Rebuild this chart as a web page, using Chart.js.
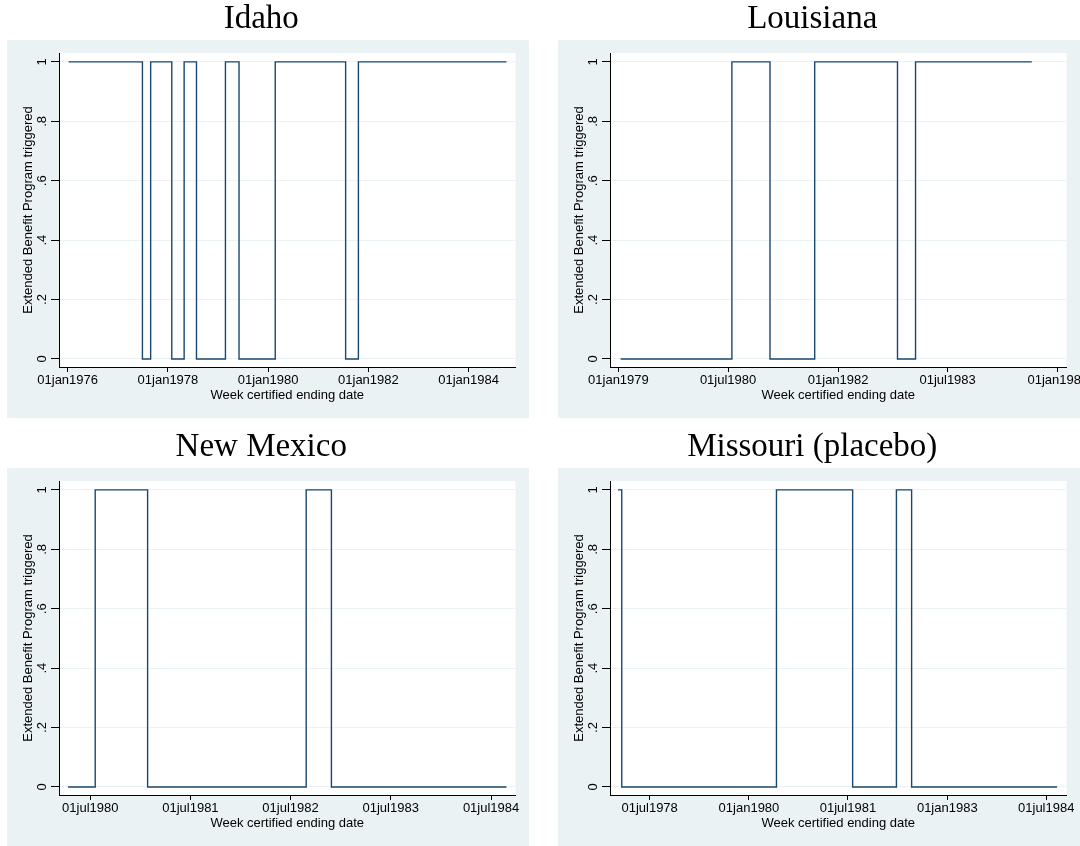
<!DOCTYPE html>
<html>
<head>
<meta charset="utf-8">
<script src="https://cdn.jsdelivr.net/npm/chart.js@4/dist/chart.umd.min.js"></script>
<style>
  html, body { margin: 0; padding: 0; background: #fff; }
  body { width: 1080px; height: 846px; position: relative; overflow: hidden; }
  canvas { position: absolute; }
</style>
</head>
<body>
<canvas id="idaho" width="522" height="418" style="left:7px;top:0px"></canvas>
<canvas id="louisiana" width="522" height="418" style="left:558px;top:0px"></canvas>
<canvas id="newmexico" width="522" height="418" style="left:7px;top:428px"></canvas>
<canvas id="missouri" width="522" height="418" style="left:558px;top:428px"></canvas>
<script>
// week at which the trigger switched, and the value it switched to
let idahoDates = ['1976-01-08', '1977-06-29', '1977-08-28', '1978-01-29', '1978-04-29', '1978-07-28',
  '1979-02-24', '1979-06-03', '1980-02-22', '1981-07-19', '1981-10-20', '1984-10-03'];
let idahoValues = [1, 0, 1, 0, 1, 0, 1, 0, 1, 0, 1, 1];
let idahoTicks = ['01jan1976', '01jan1978', '01jan1980', '01jan1982', '01jan1984'];

let louisianaDates = ['1979-01-12', '1980-07-20', '1981-01-26', '1981-09-06', '1982-10-24', '1983-01-22', '1984-08-24'];
let louisianaValues = [0, 1, 0, 1, 0, 1, 1];
let louisianaTicks = ['01jan1979', '01jul1980', '01jan1982', '01jul1983', '01jan1985'];

let newMexicoDates = ['1980-04-11', '1980-07-19', '1981-01-26', '1982-08-27', '1982-11-27', '1984-08-26'];
let newMexicoValues = [0, 1, 0, 1, 0, 0];
let newMexicoTicks = ['01jul1980', '01jul1981', '01jul1982', '01jul1983', '01jul1984'];

let missouriDates = ['1978-01-07', '1978-01-28', '1980-06-01', '1981-07-27', '1982-03-26', '1982-06-18', '1984-08-30'];
let missouriValues = [1, 0, 1, 0, 1, 0, 0];
let missouriTicks = ['01jul1978', '01jan1980', '01jul1981', '01jan1983', '01jul1984'];

let yTickValues = [0, 0.2, 0.4, 0.6, 0.8, 1];
let yTickLabels = ['0', '.2', '.4', '.6', '.8', '1'];

let months = ['jan', 'feb', 'mar', 'apr', 'may', 'jun', 'jul', 'aug', 'sep', 'oct', 'nov', 'dec'];
let DAY = 86400000;

function isoDay(s) {
  let p = s.split('-');
  return Date.UTC(+p[0], +p[1] - 1, +p[2]) / DAY;
}
function stataDay(s) {
  return Date.UTC(+s.slice(5), months.indexOf(s.slice(2, 5)), +s.slice(0, 2)) / DAY;
}

let panelBg = {
  id: 'panelBg',
  beforeDraw(chart) {
    let ctx = chart.ctx;
    let a = chart.chartArea;
    ctx.save();
    ctx.fillStyle = '#eaf2f3';
    ctx.fillRect(0, 40, chart.width, chart.height - 40);
    ctx.fillStyle = '#ffffff';
    ctx.fillRect(a.left, a.top, a.right - a.left, a.bottom - a.top);
    ctx.restore();
  }
};

function makePanel(id, title, dates, values, tickLabels, range) {
  let tickVals = tickLabels.map(stataDay);
  let points = dates.map((d, i) => ({x: isoDay(d), y: values[i]}));
  return new Chart(document.getElementById(id), {
    type: 'line',
    data: {
      datasets: [{
        data: points,
        stepped: true,
        borderColor: '#1a476f',
        borderWidth: 1.4,
        pointRadius: 0,
        fill: false
      }]
    },
    options: {
      responsive: false,
      animation: false,
      layout: {padding: {left: 0, right: 13.5, top: 0, bottom: 0}},
      plugins: {
        legend: {display: false},
        tooltip: {enabled: false},
        title: {
          display: true,
          text: title,
          color: '#000',
          font: {family: 'Liberation Serif', size: 33, weight: 'normal', lineHeight: 1.1},
          padding: {top: 1, bottom: 15.7}
        }
      },
      scales: {
        x: {
          type: 'linear',
          min: isoDay(range[0]),
          max: isoDay(range[1]),
          afterBuildTicks: (scale) => { scale.ticks = tickVals.map(v => ({value: v})); },
          afterFit: (scale) => { scale.height = 51; scale.paddingLeft = 0; scale.paddingRight = 0; },
          grid: {drawOnChartArea: false, drawTicks: true, tickLength: 5, tickColor: '#000'},
          border: {display: true, color: '#000', width: 1},
          ticks: {
            autoSkip: false,
            maxRotation: 0,
            padding: 1,
            color: '#000',
            font: {family: 'Liberation Sans', size: 13},
            callback: (v, i) => tickLabels[i]
          },
          title: {
            display: true,
            text: 'Week certified ending date',
            color: '#000',
            font: {family: 'Liberation Sans', size: 13},
            padding: {top: 0, bottom: 15.2}
          }
        },
        y: {
          min: -0.027,
          max: 1.03,
          afterBuildTicks: (scale) => { scale.ticks = yTickValues.map(v => ({value: v})); },
          afterFit: (scale) => { scale.width = 52; scale.paddingTop = 0; scale.paddingBottom = 0; },
          grid: {color: '#eaf2f3', lineWidth: 1, drawTicks: true, tickLength: 8, tickColor: '#000'},
          border: {display: true, color: '#000', width: 1},
          ticks: {
            autoSkip: false,
            minRotation: 90,
            maxRotation: 90,
            crossAlign: 'center',
            padding: 3,
            color: '#000',
            font: {family: 'Liberation Sans', size: 13},
            callback: (v, i) => yTickLabels[i]
          },
          title: {
            display: true,
            text: 'Extended Benefit Program triggered',
            color: '#000',
            font: {family: 'Liberation Sans', size: 13},
            padding: {top: 13.5, bottom: 0}
          }
        }
      }
    },
    plugins: [panelBg]
  });
}

makePanel('idaho', 'Idaho', idahoDates, idahoValues, idahoTicks, ['1975-10-30', '1984-12-08']);
makePanel('louisiana', 'Louisiana', louisianaDates, louisianaValues, louisianaTicks, ['1978-11-20', '1985-02-13']);
makePanel('newmexico', 'New Mexico', newMexicoDates, newMexicoValues, newMexicoTicks, ['1980-03-09', '1984-09-28']);
makePanel('missouri', 'Missouri (placebo)', missouriDates, missouriValues, missouriTicks, ['1977-11-24', '1984-10-21']);
</script>
</body>
</html>
